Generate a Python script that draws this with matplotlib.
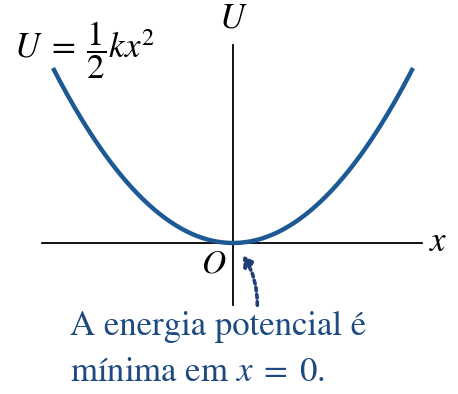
import numpy as np
import matplotlib.pyplot as plt

plt.rcParams['mathtext.fontset'] = 'stix'
plt.rcParams['font.family'] = ['STIXGeneral', 'Liberation Serif', 'DejaVu Serif']

# potential energy curve U = 1/2 k x^2 (k = 1)
k = 1.0
x_vals = np.linspace(-1.0, 1.0, 201)
U_vals = 0.5 * k * x_vals ** 2

axis_x_range = [-1.06, 1.05]
axis_U_range = [-0.177, 0.566]

formula_label = r"$U\;=\;\dfrac{1}{2}kx^2$"
note_lines = ["A energia potencial é", r"mínima em $x\;=\;0$."]

curve_color = "#1d5a95"
text_color = "#1f4a80"

fig = plt.figure(figsize=(4.58, 3.94), dpi=100)
ax = fig.add_axes([0, 0, 1, 1])
ax.set_xlim(-233 / 180, 225 / 180)
ax.set_ylim(-151 / 350, 243 / 350)
ax.axis("off")

# axes
ax.plot(axis_x_range, [0, 0], color="black", lw=1.3)
ax.plot([0, 0], axis_U_range, color="black", lw=1.3)

ax.plot(x_vals, U_vals, color=curve_color, lw=3.2, solid_capstyle="butt")

ax.text(0, 0.64, "$U$", fontsize=25, ha="center", va="center")
ax.text(1.14, 0, "$x$", fontsize=25, ha="center", va="center")
ax.text(-0.11, -0.062, "$O$", fontsize=24, ha="center", va="center")
ax.text(-1.215, 0.55, formula_label, fontsize=25, ha="left", va="center")

ax.annotate("", xy=(0.055, -0.035), xytext=(0.135, -0.178),
            arrowprops=dict(arrowstyle="-|>,head_length=0.6,head_width=0.35",
                            color="#1f3f7a", lw=2.6, linestyle=(0, (1, 1)),
                            connectionstyle="arc3,rad=0.15", shrinkA=0, shrinkB=0))

ax.text(-0.905, -0.24, note_lines[0], fontsize=25, color=text_color, ha="left", va="center")
ax.text(-0.905, -0.37, note_lines[1], fontsize=25, color=text_color, ha="left", va="center")

fig.savefig("out.png", dpi=100)
